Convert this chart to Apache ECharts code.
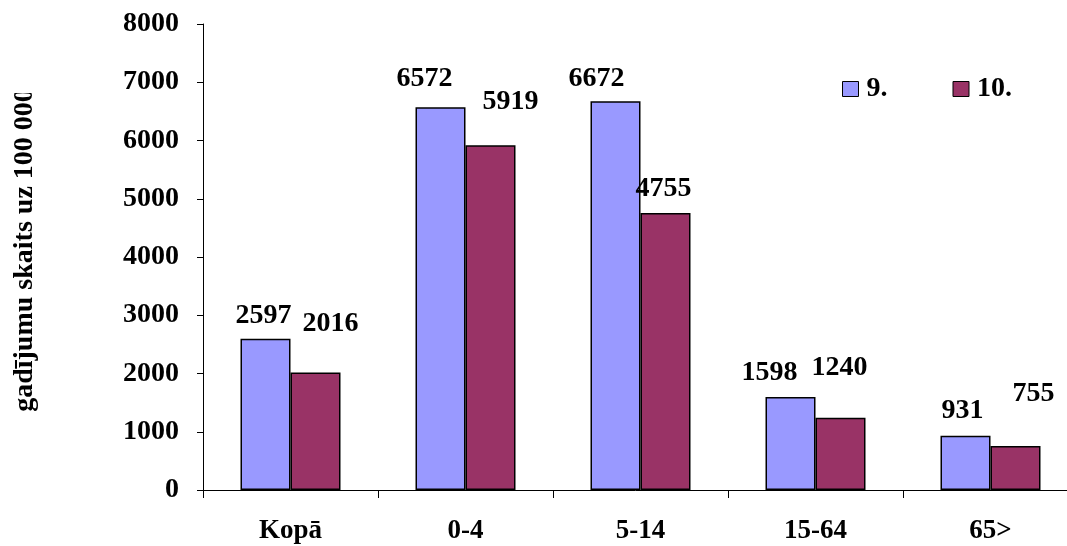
<!DOCTYPE html>
<html>
<head>
<meta charset="utf-8">
<script src="https://cdn.jsdelivr.net/npm/echarts@6/dist/echarts.min.js"></script>
<style>
html,body{margin:0;padding:0;background:#fff;}
#chart{width:1067px;height:546px;}
</style>
</head>
<body>
<div id="chart"></div>
<script>
const categories = ['Kopā', '0-4', '5-14', '15-64', '65>'];
const seriesNames = ['9.', '10.'];
const values9 = [2597, 6572, 6672, 1598, 931];
const values10 = [2016, 5919, 4755, 1240, 755];
const yTicks = [0, 1000, 2000, 3000, 4000, 5000, 6000, 7000, 8000];
const yTitle = 'gadījumu skaits uz 100 000';

// label offsets (styling of labels, px) as placed in the original
const offs9 = [[-2, -9], [-16, -14], [-19, -9], [-21, -10], [-3, -11]];
const offs10 = [[15, -35], [20, -29], [-2, -10], [-1, -36], [18, -38]];

const FONT = "'Liberation Serif', 'Times New Roman', serif";
const chart = echarts.init(document.getElementById('chart'));

function mkData(vals, offs) {
  return vals.map((v, i) => ({ value: v, label: { offset: offs[i] } }));
}

const labelStyle = {
  show: true, position: 'top', distance: 0,
  color: '#000', fontFamily: FONT, fontWeight: 'bold', fontSize: 28
};

chart.setOption({
  animation: false,
  backgroundColor: '#fff',
  grid: { left: 203, top: 24, width: 875, height: 466, containLabel: false, outerBoundsMode: 'none' },
  legend: {
    data: seriesNames,
    left: 842, top: 75, padding: 0,
    itemWidth: 16, itemHeight: 15, itemGap: 65,
    icon: 'rect',
    itemStyle: { borderColor: '#000', borderWidth: 1 },
    textStyle: { fontFamily: FONT, fontWeight: 'bold', fontSize: 28, color: '#000', padding: [0, 0, 0, 3] }
  },
  graphic: [
    {
      type: 'text', x: 25, y: 250, rotation: Math.PI / 2, z: 10,
      style: { text: yTitle, fontFamily: FONT, fontWeight: 'bold', fontSize: 28, fill: '#000',
        textAlign: 'center', textVerticalAlign: 'middle' }
    },
    {
      type: 'rect', z: 11, shape: { x: 0, y: 0, width: 50, height: 93 },
      style: { fill: '#fff' }
    }
  ],
  xAxis: {
    type: 'category',
    data: categories,
    axisLine: { lineStyle: { color: '#000', width: 1 } },
    axisTick: { show: true, length: 8, inside: false, alignWithLabel: false, lineStyle: { color: '#000' } },
    axisLabel: { fontFamily: FONT, fontWeight: 'bold', fontSize: 27, color: '#000', margin: 28 },
    splitLine: { show: false }
  },
  yAxis: {
    type: 'value',
    min: yTicks[0], max: yTicks[yTicks.length - 1], interval: 1000,
    axisLine: { show: true, lineStyle: { color: '#000', width: 1 } },
    axisTick: { show: true, length: 6, lineStyle: { color: '#000' } },
    axisLabel: { fontFamily: FONT, fontWeight: 'bold', fontSize: 28, color: '#000', margin: 24,
      formatter: v => String(v) },
    splitLine: { show: false }
  },
  series: [
    {
      name: seriesNames[0], type: 'bar', barWidth: 50, barGap: '0%',
      itemStyle: { color: '#9999FF', borderColor: '#000', borderWidth: 1.5 },
      label: labelStyle,
      data: mkData(values9, offs9)
    },
    {
      name: seriesNames[1], type: 'bar', barWidth: 50, barGap: '0%',
      itemStyle: { color: '#993366', borderColor: '#000', borderWidth: 1.5 },
      label: labelStyle,
      data: mkData(values10, offs10)
    }
  ]
});
</script>
</body>
</html>
